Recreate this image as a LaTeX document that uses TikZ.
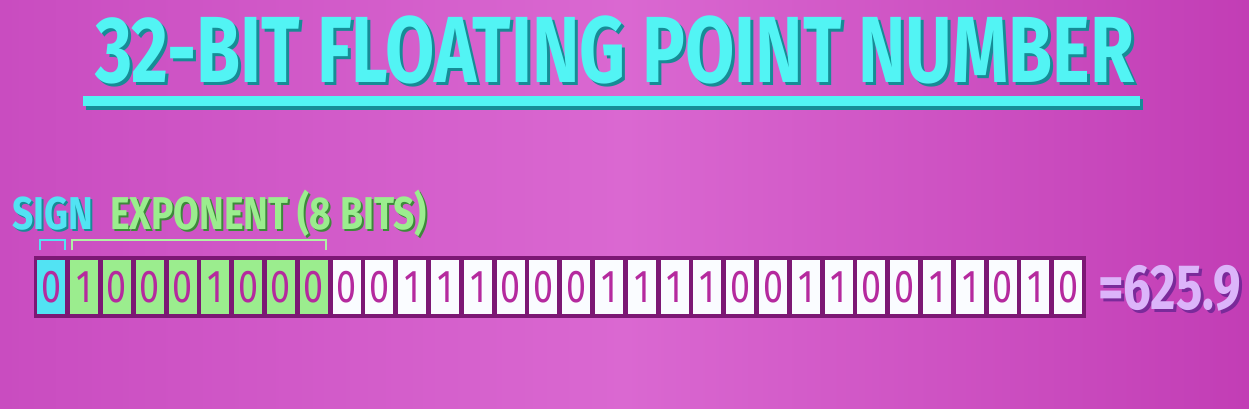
\documentclass[tikz,border=0pt]{standalone}
\usepackage{fontspec}
\setmainfont{Fira Sans}
\newfontfamily\titlefont[FakeStretch=0.76]{Fira Sans}
\newfontfamily\labelfont[FakeStretch=0.81]{Fira Sans}
\newfontfamily\valuefont[FakeStretch=0.77]{Fira Sans}
\newfontfamily\bitfont[FakeStretch=0.78]{Fira Sans}
\usetikzlibrary{positioning}
\definecolor{bgleft}{HTML}{C94CC0}
\definecolor{bgmid}{HTML}{DA68D1}
\definecolor{bgright}{HTML}{C23DB5}
\definecolor{titlecyan}{HTML}{52F4F4}
\definecolor{titleshadow}{HTML}{168C96}
\definecolor{expgreen}{HTML}{9BED8E}
\definecolor{expshadow}{HTML}{3D8A3A}
\definecolor{signcyan}{HTML}{52E3F3}
\definecolor{boxline}{HTML}{7C1874}
\definecolor{digit}{HTML}{B52A9E}
\definecolor{paper}{HTML}{FAFCFF}
\definecolor{result}{HTML}{DCB4FA}
\definecolor{resultshadow}{HTML}{7A2A9A}
\begin{document}
\begin{tikzpicture}[x=1pt, y=-1pt,
  bit/.style={draw=boxline, line width=2.4pt, minimum width=30.4pt, minimum height=57pt, inner sep=0pt, text=digit, font=\bitfont\fontsize{46}{46}\selectfont},
  head/.style={inner sep=0pt, anchor=base west},
  bracket/.style={line width=2pt}]
\useasboundingbox (0,0) rectangle (1249,409);
\shade[left color=bgleft, right color=bgright, middle color=bgmid] (0,0) rectangle (1249,409);

% title with underline
\node[head, text=titleshadow, font=\titlefont\bfseries\fontsize{94}{94}\selectfont] (titleshadow) at (98,86) {32-BIT FLOATING POINT NUMBER};
\node[head, text=titlecyan, font=\titlefont\bfseries\fontsize{94}{94}\selectfont] (title) at (95,83) {32-BIT FLOATING POINT NUMBER};
\fill[titleshadow] (86,99) rectangle (1143,110);
\fill[titlecyan] (83,96) rectangle (1140,106);

% the 32 bits
\foreach \b [count=\i] in {0,1,0,0,0,1,0,0,0,0,0,1,1,1,0,0,0,1,1,1,1,0,0,1,1,0,0,1,1,0,1,0}{
  \ifnum\i=1 \def\fillc{signcyan}\else\ifnum\i<10 \def\fillc{expgreen}\else\def\fillc{paper}\fi\fi
  \node[bit, fill=\fillc] (b\i) at ({35+32.8*(\i-0.5)}, 287) {\b};
}
\draw[boxline, line width=2pt] (b1.north west) rectangle (b32.south east);

% labels and brackets
\node[head, text=titleshadow, font=\labelfont\bfseries\fontsize{46}{46}\selectfont] (signshadow) at (14,231) {SIGN};
\node[head, text=signcyan, font=\labelfont\bfseries\fontsize{46}{46}\selectfont] (sign) at (12,229) {SIGN};
\node[head, text=expshadow, font=\labelfont\bfseries\fontsize{46}{46}\selectfont] (expshadow) at (112,231) {EXPONENT (8 BITS)};
\node[head, text=expgreen, font=\labelfont\bfseries\fontsize{46}{46}\selectfont] (exp) at (110,229) {EXPONENT (8 BITS)};
\draw[bracket, signcyan] ([xshift=5pt,yshift=7pt]b1.north west) -- ++(0,-10) -| ([xshift=-3pt,yshift=7pt]b1.north east);
\draw[bracket, expgreen!80!white] ([xshift=4pt,yshift=7pt]b2.north west) -- ++(0,-10) -| ([xshift=-4pt,yshift=7pt]b9.north east);

% value
\node[head, text=resultshadow, font=\valuefont\bfseries\fontsize{64}{64}\selectfont] (valueshadow) at (1101,312) {=625.9};
\node[head, text=result, font=\valuefont\bfseries\fontsize{64}{64}\selectfont] (value) at (1098,309) {=625.9};
\end{tikzpicture}
\end{document}
